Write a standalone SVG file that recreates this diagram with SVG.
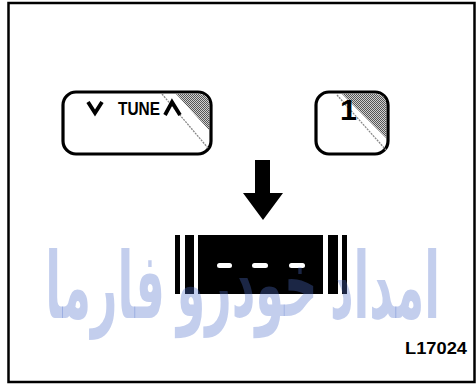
<svg xmlns="http://www.w3.org/2000/svg" width="476" height="384" viewBox="0 0 476 384">
<defs>
<pattern id="stip" width="2" height="2" patternUnits="userSpaceOnUse">
<rect width="2" height="2" fill="#d0d0d0"/>
<rect width="1" height="1" fill="#555"/>
<rect x="1" y="1" width="1" height="1" fill="#555"/>
</pattern>
</defs>
<style>
.btn{fill:#fff;stroke:#000;stroke-width:3.2}
.shade{fill:url(#stip)}
.hl{stroke:#888;stroke-width:1.3;stroke-dasharray:2 1;fill:none}
.chev{fill:none;stroke:#000;stroke-width:3.8;stroke-linejoin:miter}
.blk{fill:#000}
.wm{font-family:"DejaVu Sans",sans-serif;font-weight:bold;font-size:92px;fill:#4f70cb;fill-opacity:0.34}
</style>
<rect x="0" y="0" width="476" height="384" fill="#fff"/>
<rect x="8.5" y="3" width="466" height="379" fill="none" stroke="#000" stroke-width="2.5"/>
<g id="tune-button">
<rect class="btn" x="63" y="92" width="148" height="62" rx="13"/>
<path class="shade" d="M176,94 L199,94 Q209,94 209,104 L209,130 Z"/>
<line class="hl" x1="162" y1="94" x2="208" y2="148"/>
<polyline class="chev" points="88,102 95,113 102,102"/>
<text x="118" y="115" font-family="Liberation Sans, sans-serif" font-weight="bold" font-size="19" textLength="42" lengthAdjust="spacingAndGlyphs">TUNE</text>
<polyline class="chev" points="165,115 172,102 180,115"/>
</g>
<g id="preset-1-button">
<rect class="btn" x="316" y="92" width="72" height="62" rx="13"/>
<path class="shade" d="M342,94 L376,94 Q386,94 386,104 L386,138 Z"/>
<line class="hl" x1="337" y1="95" x2="386" y2="150"/>
<text x="340" y="120" font-family="Liberation Sans, sans-serif" font-weight="bold" font-size="30" textLength="17" lengthAdjust="spacingAndGlyphs">1</text>
</g>
<g id="connectors">
<path id="arrow" class="blk" d="M255,160 L270,160 L270,193 L283,193 L263,220 L243,193 L255,193 Z"/>
</g>
<g id="display">
<rect class="blk" x="175" y="235" width="5" height="59"/>
<rect class="blk" x="185" y="235" width="9" height="59"/>
<rect class="blk" x="198" y="235" width="125" height="59"/>
<rect class="blk" x="328" y="235" width="10" height="59"/>
<rect class="blk" x="342" y="235" width="5" height="59"/>
<rect x="217" y="263" width="15" height="5" rx="2.5" fill="#fff"/>
<rect x="252" y="263" width="16" height="5" rx="2.5" fill="#fff"/>
<rect x="289" y="263" width="16" height="5" rx="2.5" fill="#fff"/>
</g>
<text x="405" y="354" font-family="Liberation Sans, sans-serif" font-weight="bold" font-size="17" textLength="62" lengthAdjust="spacingAndGlyphs">L17024</text>
<g id="watermark">
<text class="wm" text-anchor="middle" transform="translate(105,318) scale(0.5,1)">فارما</text>
<text class="wm" text-anchor="middle" transform="translate(247,316) scale(0.5,1)">خودرو</text>
<text class="wm" text-anchor="middle" transform="translate(385,318) scale(0.5,1)">امداد</text>
</g>
</svg>
